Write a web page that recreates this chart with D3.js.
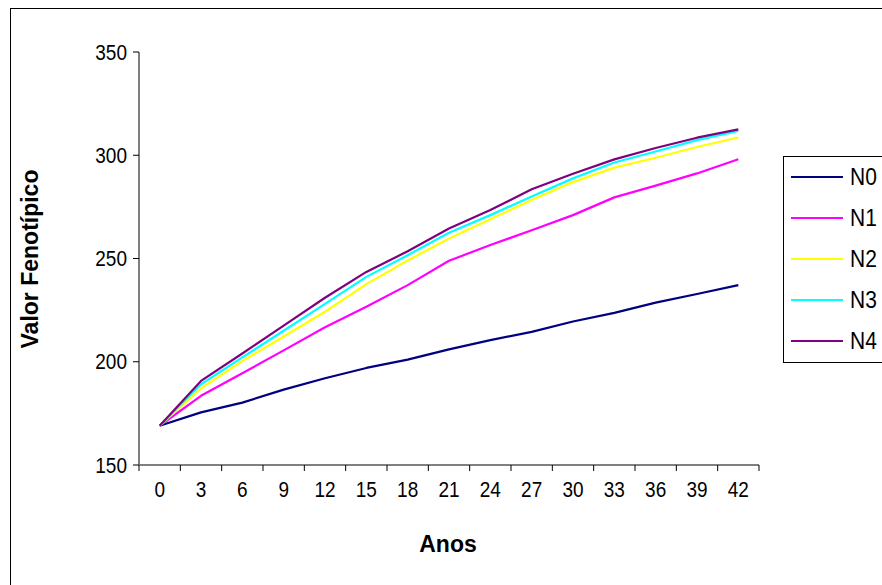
<!DOCTYPE html>
<html>
<head>
<meta charset="utf-8">
<script src="https://cdn.jsdelivr.net/npm/d3@7"></script>
<style>
  body { margin: 0; background: #fff; }
  text { font-family: Arial, "Liberation Sans", sans-serif; }
</style>
</head>
<body>
<div id="chart"></div>
<script>
const anos = ["0","3","6","9","12","15","18","21","24","27","30","33","36","39","42"];
const n0 = [169, 175.5, 180.2, 186.5, 192, 197, 201, 206, 210.5, 214.5, 219.5, 223.7, 228.6, 232.8, 237.1];
const n1 = [169, 183.5, 194.4, 205.5, 216.7, 226.6, 237.1, 248.9, 256.5, 263.7, 271, 279.6, 285.3, 291.2, 298.1];
const n2 = [169, 187.1, 200.3, 212.2, 224.2, 237.6, 249, 259.7, 269, 278.3, 287, 294, 298.8, 304, 308.6];
const n3 = [169, 189.1, 202.1, 215, 228, 241.1, 251.6, 262.5, 271, 280, 288.8, 296.5, 301.8, 307.3, 311.8];
const n4 = [169, 190.7, 204, 217.5, 231, 243.5, 253.5, 264.5, 273.5, 283.5, 291, 298, 303.5, 308.5, 312.5];
const seriesNames = ["N0","N1","N2","N3","N4"];
const seriesColors = ["#000080","#ff00ff","#ffff00","#00ffff","#800080"];
const yTicks = [150, 200, 250, 300, 350];

const series = seriesNames.map((name, i) => ({name: name, values: [n0, n1, n2, n3, n4][i], color: seriesColors[i]}));

const svg = d3.select("#chart").append("svg").attr("width", 882).attr("height", 585);

// outer frame
svg.append("rect").attr("x", 10.5).attr("y", 8.5).attr("width", 900).attr("height", 600)
  .attr("fill", "none").attr("stroke", "#000").attr("stroke-width", 1);

const x = d3.scaleBand().domain(anos).range([139, 759]);
const y = d3.scaleLinear().domain([150, 350]).range([465, 52]);

// axes
const xAxis = svg.append("g").attr("transform", "translate(0,465)");
xAxis.append("line").attr("x1", 139).attr("x2", 759).attr("stroke", "#808080").attr("stroke-width", 2);
xAxis.selectAll(".tk").data(anos.concat(["end"])).enter().append("line")
  .attr("x1", (d, i) => i < anos.length ? x(d) : x.range()[1])
  .attr("x2", (d, i) => i < anos.length ? x(d) : x.range()[1])
  .attr("y1", 0).attr("y2", 6).attr("stroke", "#000");
xAxis.selectAll(".lbl").data(anos).enter().append("text")
  .attr("transform", d => "translate(" + (x(d) + x.bandwidth() / 2) + ",32) scale(1,1.12)")
  .attr("text-anchor", "middle").attr("font-size", 19).text(d => d);

const yAxis = svg.append("g");
yAxis.append("line").attr("x1", 139).attr("x2", 139).attr("y1", y(350)).attr("y2", y(150))
  .attr("stroke", "#808080").attr("stroke-width", 2);
yAxis.selectAll(".tk").data(yTicks).enter().append("line")
  .attr("x1", 133).attr("x2", 139).attr("y1", d => y(d)).attr("y2", d => y(d)).attr("stroke", "#000");
yAxis.selectAll(".lbl").data(yTicks).enter().append("text")
  .attr("transform", d => "translate(127," + (y(d) + 7.5) + ") scale(1,1.12)")
  .attr("text-anchor", "end").attr("font-size", 19).text(d => d);

// titles
svg.append("text").attr("x", 448).attr("y", 552).attr("text-anchor", "middle")
  .attr("font-size", 23).attr("font-weight", "bold").text("Anos");
svg.append("text").attr("transform", "translate(38,259) rotate(-90)").attr("text-anchor", "middle")
  .attr("font-size", 23).attr("font-weight", "bold").text("Valor Fenotípico");

// lines
const line = d3.line().x((d, i) => x(anos[i]) + x.bandwidth() / 2).y(d => y(d));
svg.selectAll(".serie").data(series).enter().append("path")
  .attr("d", d => line(d.values)).attr("fill", "none")
  .attr("stroke", d => d.color).attr("stroke-width", 2.2).attr("stroke-linejoin", "round");

// legend
const legend = svg.append("g");
legend.append("rect").attr("x", 783.5).attr("y", 156.5).attr("width", 120).attr("height", 206)
  .attr("fill", "#fff").attr("stroke", "#000");
const item = legend.selectAll(".item").data(series).enter().append("g")
  .attr("transform", (d, i) => "translate(0," + (177 + i * 41) + ")");
item.append("line").attr("x1", 791).attr("x2", 843).attr("stroke", d => d.color).attr("stroke-width", 2.2);
item.append("text").attr("transform", "translate(850,7.5) scale(1,1.12)").attr("font-size", 21).text(d => d.name);
</script>
</body>
</html>
